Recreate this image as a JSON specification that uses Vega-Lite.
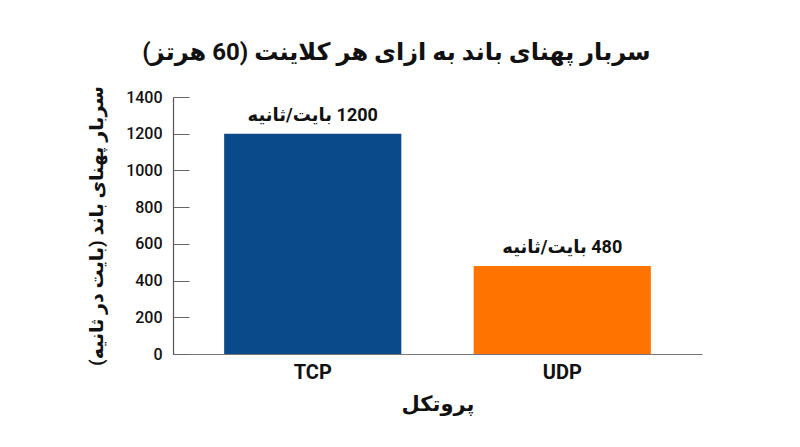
{
  "$schema": "https://vega.github.io/schema/vega-lite/v6.json",
  "width": 529,
  "height": 257,
  "autosize": {"type": "none"},
  "padding": {"left": 173, "top": 97, "right": 98, "bottom": 93},
  "background": "white",
  "config": {
    "font": "Roboto, DejaVu Sans",
    "view": {"stroke": null}
  },
  "title": {
    "text": "\u202bسربار پهنای باند به ازای هر کلاینت (60 هرتز)\u202c",
    "fontSize": 24,
    "fontWeight": "bold",
    "color": "#111",
    "anchor": "middle",
    "frame": "group",
    "dx": -41,
    "offset": 21
  },
  "data": {
    "values": [
      {"protocol": "TCP", "value": 1200, "label": "\u202b1200 بایت/ثانیه\u202c"},
      {"protocol": "UDP", "value": 480, "label": "\u202b480 بایت/ثانیه\u202c"}
    ]
  },
  "encoding": {
    "x": {
      "field": "protocol",
      "type": "nominal",
      "sort": null,
      "scale": {"paddingInner": 0.29, "paddingOuter": 0.205},
      "axis": {
        "title": "\u202bپروتکل\u202c",
        "titleFontSize": 21,
        "titleFontWeight": "bold",
        "titleColor": "#111",
        "titlePadding": 11,
        "labelAngle": 0,
        "labelFontSize": 20,
        "labelFontWeight": "bold",
        "labelColor": "#111",
        "labelPadding": 8,
        "ticks": false,
        "domainColor": "#777",
        "domainWidth": 1.2
      }
    },
    "y": {
      "field": "value",
      "type": "quantitative",
      "scale": {"domain": [0, 1400], "nice": false},
      "axis": {
        "values": [0, 200, 400, 600, 800, 1000, 1200, 1400],
        "format": "d",
        "title": "\u202bسربار پهنای باند (بایت در ثانیه)\u202c",
        "titleFontSize": 19,
        "titleFontWeight": "bold",
        "titleColor": "#111",
        "titlePadding": 19,
        "labelFontSize": 16,
        "labelFontWeight": 500,
        "labelColor": "#111",
        "labelPadding": 27,
        "tickSize": -16,
        "tickColor": "#666",
        "domainColor": "#555",
        "domainWidth": 1.2,
        "grid": false
      }
    }
  },
  "layer": [
    {
      "mark": {"type": "bar"},
      "encoding": {
        "color": {
          "field": "protocol",
          "type": "nominal",
          "scale": {"domain": ["TCP", "UDP"], "range": ["#0a4a8a", "#ff7400"]},
          "legend": null
        }
      }
    },
    {
      "mark": {"type": "text", "baseline": "bottom", "dy": -9, "fontSize": 18, "fontWeight": "bold", "color": "#111"},
      "encoding": {"text": {"field": "label"}}
    }
  ]
}
